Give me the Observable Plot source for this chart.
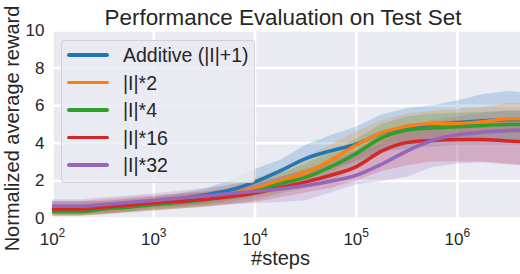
<!DOCTYPE html>
<html><head><meta charset="utf-8">
<script src="https://cdn.jsdelivr.net/npm/d3@7"></script>
<script src="https://cdn.jsdelivr.net/npm/@observablehq/plot@0.6"></script>
<style>
body{margin:0;background:#fff;font-family:"Liberation Sans",Arial,sans-serif;color:#262626}
#wrap{position:relative;width:520px;height:274px;overflow:hidden}
#title{position:absolute;left:23px;top:7px;width:520px;text-align:center;font-size:22.4px;line-height:22px;white-space:nowrap}
#legend{position:absolute;left:61px;top:40px;width:194px;height:143px;border:1px solid rgba(204,204,204,0.8);border-radius:4px;background:rgba(234,234,242,0.8);box-sizing:border-box}
.row{position:absolute;left:0;height:20px;width:190px}
.sw{position:absolute;left:5px;width:42px;height:3.5px;top:8.25px;border-radius:2px}
.lab{position:absolute;left:61px;top:0;font-size:19.5px;line-height:20px;white-space:nowrap}
</style></head>
<body>
<div id="wrap">
  <div id="chart"></div>
  <div id="title">Performance Evaluation on Test Set</div>
  <div id="legend"></div>
</div>
<script>
// ---- data ----
const steps = [100, 190, 320, 560, 1000, 1800, 3200, 5600, 10000, 18000, 32000, 56000, 100000, 180000, 320000, 560000, 1000000, 1800000, 3200000, 4200000];

const seriesNames = ["Additive (|I|+1)", "|I|*2", "|I|*4", "|I|*16", "|I|*32"];
const seriesColors = ["#1f77b4", "#ff7f0e", "#2ca02c", "#d62728", "#9467bd"];

const meanAdditive = [0.45,0.45,0.55,0.67,0.85,1.05,1.25,1.5,1.95,2.55,3.2,3.6,3.95,4.55,4.85,5.0,5.1,5.2,5.25,5.25];
const loAdditive   = [0.2,0.2,0.25,0.35,0.5,0.6,0.75,0.95,1.2,1.6,2.1,2.6,3.0,3.5,3.7,3.8,3.9,3.9,3.9,3.9];
const hiAdditive   = [0.9,0.9,0.9,1.0,1.1,1.3,1.55,2.0,2.6,3.1,3.9,4.4,4.85,5.5,5.85,6.0,6.25,6.6,6.75,6.7];

const meanX2 = [0.45,0.45,0.55,0.65,0.8,0.9,1.05,1.3,1.6,2.0,2.45,3.1,3.9,4.57,4.9,5.05,5.05,5.15,5.3,5.3];
const loX2   = [0.15,0.15,0.25,0.35,0.45,0.55,0.65,0.85,1.1,1.4,1.85,2.4,3.1,3.8,4.1,4.3,4.3,4.4,4.5,4.5];
const hiX2   = [0.8,0.8,0.9,1.0,1.15,1.3,1.45,1.75,2.1,2.6,3.2,3.9,4.6,5.2,5.55,5.7,5.8,5.9,6.1,6.1];

const meanX4 = [0.37,0.37,0.5,0.6,0.73,0.85,1.0,1.2,1.45,1.85,2.2,2.75,3.45,4.3,4.7,4.82,4.88,4.95,5.0,5.0];
const loX4   = [0.1,0.1,0.2,0.3,0.4,0.5,0.6,0.75,0.95,1.3,1.6,2.0,2.6,3.5,3.9,4.0,4.1,4.2,4.2,4.2];
const hiX4   = [0.7,0.7,0.8,0.9,1.05,1.2,1.35,1.6,1.9,2.4,2.9,3.5,4.2,5.0,5.4,5.55,5.6,5.65,5.7,5.7];

const meanX16 = [0.5,0.5,0.6,0.7,0.82,0.92,1.02,1.15,1.35,1.65,1.95,2.3,2.75,3.6,4.05,4.15,4.2,4.2,4.12,4.1];
const loX16   = [0.15,0.15,0.2,0.3,0.4,0.5,0.6,0.7,0.85,1.1,1.35,1.6,2.0,2.5,2.8,3.0,3.0,3.0,2.9,2.85];
const hiX16   = [0.9,0.9,1.0,1.1,1.2,1.3,1.4,1.55,1.8,2.2,2.6,3.0,3.6,4.5,5.0,5.1,5.2,5.2,5.1,5.1];

const meanX32 = [0.65,0.65,0.75,0.85,0.96,1.08,1.2,1.33,1.45,1.57,1.75,1.98,2.3,2.9,3.6,4.15,4.45,4.6,4.68,4.7];
const loX32   = [0.3,0.3,0.4,0.5,0.6,0.65,0.7,0.75,0.8,0.85,0.95,1.35,1.8,1.95,2.2,2.7,2.9,2.95,2.85,2.8];
const hiX32   = [1.0,1.0,1.1,1.2,1.3,1.45,1.6,1.75,1.95,2.2,2.5,2.85,3.3,4.0,4.7,5.2,5.4,5.6,5.7,5.7];

const xTicks = [1e2, 1e3, 1e4, 1e5, 1e6];
const yTicks = [0, 2, 4, 6, 8, 10];

// ---- build tidy table ----
const means = [meanAdditive, meanX2, meanX4, meanX16, meanX32];
const los = [loAdditive, loX2, loX4, loX16, loX32];
const his = [hiAdditive, hiX2, hiX4, hiX16, hiX32];
const tables = seriesNames.map((name, i) => steps.map((s, j) => ({
  series: name, step: s, mean: means[i][j], lo: los[i][j], hi: his[i][j]
})));

const bandMarks = tables.map((t, i) =>
  Plot.areaY(t, {x: "step", y1: "lo", y2: "hi", fill: seriesColors[i], fillOpacity: 0.22, curve: "linear", clip: true}));
const lineMarks = tables.map((t, i) =>
  Plot.lineY(t, {x: "step", y: "mean", stroke: seriesColors[i], strokeWidth: 3.5, curve: "monotone-x", clip: true}));

const plot = Plot.plot({
  width: 520, height: 274,
  marginTop: 30, marginBottom: 56, marginLeft: 52, marginRight: 0,
  style: {fontFamily: "'Liberation Sans', Arial, sans-serif", fontSize: "17px", color: "#262626", background: "transparent", overflow: "visible"},
  x: {type: "log", domain: [100, 4.2e6]},
  y: {domain: [0, 10]},
  marks: [
    Plot.frame({fill: "#EAEAF2", stroke: "none"}),
    Plot.gridX({ticks: xTicks, stroke: "white", strokeOpacity: 1, strokeWidth: 2.5}),
    Plot.gridY({ticks: yTicks, stroke: "white", strokeOpacity: 1, strokeWidth: 2.5}),
    ...bandMarks,
    ...lineMarks,
    Plot.axisX({ticks: xTicks, tickSize: 0, tickPadding: 14, tickFormat: d => "10^" + Math.round(Math.log10(d)), label: null, fontSize: 17}),
    Plot.axisY({ticks: yTicks, tickSize: 0, tickPadding: 8, label: null, fontSize: 17}),
    Plot.text(["#steps"], {frameAnchor: "bottom", lineAnchor: "middle", textAnchor: "middle", dy: 40, dx: -6, fontSize: 20, fill: "#262626"}),
    Plot.text(["Normalized average reward"], {frameAnchor: "left", lineAnchor: "middle", textAnchor: "middle", dx: -40, dy: 4, rotate: -90, fontSize: 20, fill: "#262626"})
  ]
});
document.getElementById("chart").appendChild(plot);

// superscript exponents on x tick labels
d3.select(plot).selectAll('g[aria-label="x-axis tick label"] text').each(function() {
  const t = this.textContent;
  if (!t.includes("^")) return;
  const [base, exp] = t.split("^");
  const sel = d3.select(this);
  sel.text(null);
  sel.append("tspan").text(base);
  sel.append("tspan").attr("dy", "-0.62em").attr("font-size", "12px").text(exp);
});

// legend
const legend = document.getElementById("legend");
const rowTops = [4, 31.5, 59, 86.5, 114];
seriesNames.forEach((name, i) => {
  const row = document.createElement("div");
  row.className = "row";
  row.style.top = rowTops[i] + "px";
  const sw = document.createElement("div");
  sw.className = "sw";
  sw.style.background = seriesColors[i];
  const lab = document.createElement("span");
  lab.className = "lab";
  lab.textContent = name;
  row.appendChild(sw); row.appendChild(lab);
  legend.appendChild(row);
});
</script>
</body></html>
